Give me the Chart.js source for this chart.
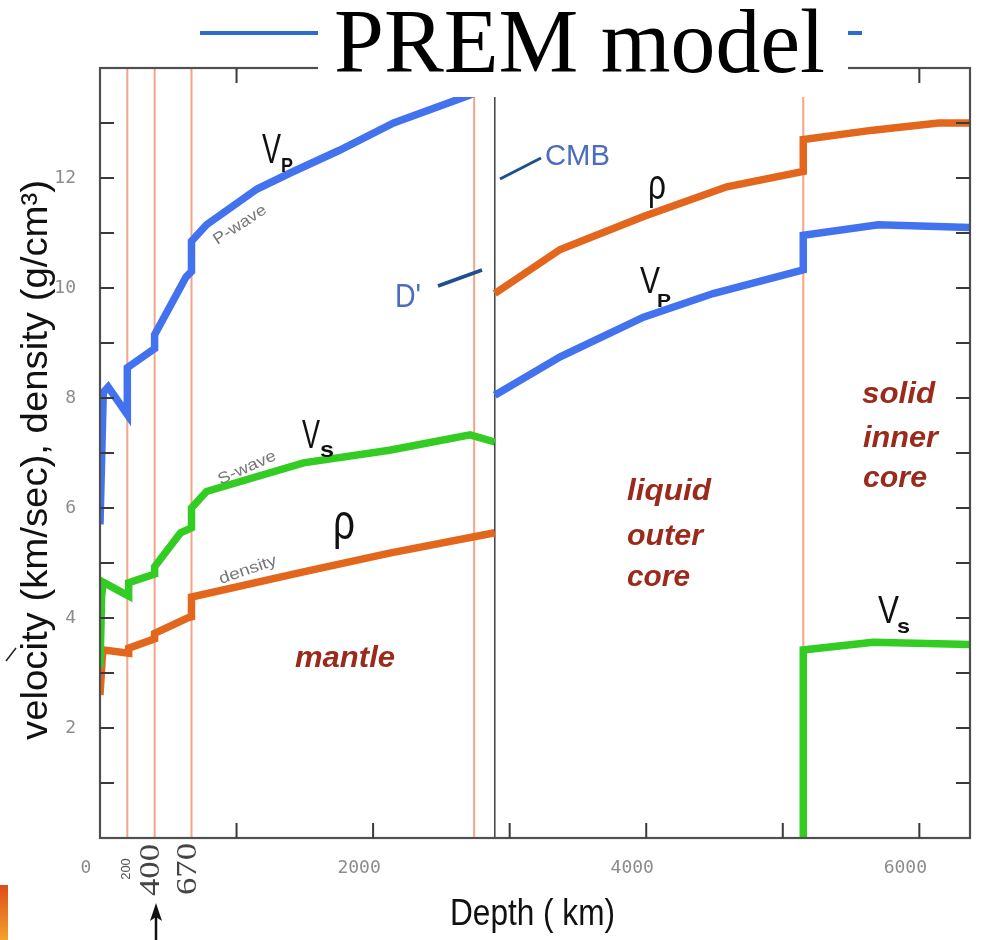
<!DOCTYPE html>
<html>
<head>
<meta charset="utf-8">
<script src="https://cdn.jsdelivr.net/npm/chart.js@4.4.1/dist/chart.umd.min.js"></script>
<style>
  html, body { margin: 0; padding: 0; background: #fff; overflow: hidden; }
  #chart { display: block; }
</style>
</head>
<body>
<canvas id="chart" width="981" height="940"></canvas>
<script>
// PREM profiles (depth in km), null = break in the curve
const depthVp = [0, 24, 60, 200, 200, 400, 400, 630, 670, 670, 780, 1150, 1400, 1750, 2150, 2700, 2891, null,
                 2891, 3370, 3980, 4490, 5150, 5150, 5700, 6371];
const vp      = [5.7, 8.1, 8.2, 7.7, 8.55, 8.9, 9.15, 10.2, 10.3, 10.85, 11.15, 11.8, 12.1, 12.5, 13.0, 13.5, 13.72, null,
                 8.05, 8.75, 9.47, 9.9, 10.33, 10.96, 11.15, 11.1];

const depthVs = [0, 12, 24, 150, 210, 210, 400, 400, 590, 670, 670, 780, 1490, 2120, 2710, 2891, null,
                 5150, 5150, 5660, 6371];
const vs      = [3.1, 4.4, 4.65, 4.48, 4.4, 4.64, 4.8, 4.93, 5.55, 5.64, 6.0, 6.3, 6.82, 7.05, 7.33, 7.2, null,
                 0, 3.42, 3.56, 3.52];

const depthRho = [0, 20, 210, 210, 400, 400, 640, 670, 670, 1490, 2120, 2891, null,
                  2891, 3370, 3980, 4590, 5150, 5150, 5660, 6140, 6371];
const rho      = [2.6, 3.42, 3.36, 3.45, 3.62, 3.72, 4.0, 4.02, 4.38, 4.84, 5.18, 5.55, null,
                  9.9, 10.7, 11.3, 11.84, 12.12, 12.7, 12.87, 13.0, 13.0];

const xTickValues = [0, 1000, 2000, 3000, 4000, 5000, 6000];
const xLabelValues = [0, 2000, 4000, 6000];
const yTickValues = [0, 1, 2, 3, 4, 5, 6, 7, 8, 9, 10, 11, 12, 13, 14];
const yLabelValues = [2, 4, 6, 8, 10, 12];
const boundaryDepths = [200, 400, 670, 2740, 5150];
const cmbDepth = 2891;
const depthLabels = ['200', '400', '670'];

const BLUE = '#4272ee';
const GREEN = '#33cc22';
const ORANGE = '#e2661c';
const REGION = '#992a1c';

function toPoints(xs, ys) {
  return xs.map((x, i) => ({ x: x, y: ys[i] }));
}

function label(ctx, s, x, y, o) {
  ctx.save();
  ctx.translate(x, y);
  if (o.rot) ctx.rotate(o.rot * Math.PI / 180);
  ctx.font = o.font;
  ctx.fillStyle = o.color || '#111';
  ctx.textAlign = o.align || 'left';
  ctx.textBaseline = o.base || 'alphabetic';
  if (o.w) {
    const m = ctx.measureText(s).width;
    ctx.scale(o.w / m, 1);
  }
  ctx.fillText(s, 0, 0);
  ctx.restore();
}

function seg(ctx, x1, y1, x2, y2, color, width) {
  ctx.save();
  ctx.strokeStyle = color;
  ctx.lineWidth = width;
  ctx.beginPath();
  ctx.moveTo(x1, y1);
  ctx.lineTo(x2, y2);
  ctx.stroke();
  ctx.restore();
}

// boundaries behind the curves
const boundaryPlugin = {
  id: 'boundaries',
  beforeDatasetsDraw(chart) {
    const { ctx, chartArea: a, scales: { x } } = chart;
    boundaryDepths.forEach(d => {
      const px = x.getPixelForValue(d);
      seg(ctx, px, a.top, px, a.bottom, '#f3a487', 2);
    });
    const cx = x.getPixelForValue(cmbDepth);
    seg(ctx, cx, a.top, cx, a.bottom, '#4a4a4a', 1.6);
  }
};

// frame with inward ticks, like the original plot
const framePlugin = {
  id: 'frame',
  afterDatasetsDraw(chart) {
    const { ctx, chartArea: a, scales: { x, y } } = chart;
    ctx.save();
    ctx.strokeStyle = '#505050';
    ctx.lineWidth = 2.2;
    ctx.strokeRect(a.left, a.top, a.right - a.left, a.bottom - a.top);
    ctx.lineWidth = 2;
    ctx.strokeStyle = '#3a3a3a';
    x.ticks.forEach(t => {
      if (t.value <= 0) return;
      const px = x.getPixelForValue(t.value);
      ctx.beginPath();
      ctx.moveTo(px, a.bottom); ctx.lineTo(px, a.bottom - 15);
      ctx.moveTo(px, a.top); ctx.lineTo(px, a.top + 15);
      ctx.stroke();
    });
    y.ticks.forEach(t => {
      if (t.value <= 0 || t.value >= 14) return;
      const py = y.getPixelForValue(t.value);
      ctx.beginPath();
      ctx.moveTo(a.left, py); ctx.lineTo(a.left + 14, py);
      ctx.moveTo(a.right, py); ctx.lineTo(a.right - 14, py);
      ctx.stroke();
    });
    ctx.restore();
  }
};

const annotatePlugin = {
  id: 'annotate',
  afterDraw(chart) {
    const { ctx, scales: { x } } = chart;
    const sans = 'Liberation Sans, Arial, sans-serif';

    // curve names
    label(ctx, 'V', 262, 163, { font: '42px ' + sans, w: 19 });
    label(ctx, 'P', 281, 172, { font: 'bold 20px ' + sans, w: 12 });
    label(ctx, 'V', 302, 448, { font: '40px ' + sans, w: 18 });
    label(ctx, 's', 320, 457, { font: 'bold 22px ' + sans, w: 14 });
    label(ctx, 'ρ', 333, 539, { font: '50px ' + sans, w: 22 });
    label(ctx, 'V', 640, 293, { font: '36px ' + sans, w: 20 });
    label(ctx, 'P', 657, 307, { font: 'bold 19px ' + sans, w: 14 });
    label(ctx, 'ρ', 648, 199, { font: '42px ' + sans, w: 18 });
    label(ctx, 'V', 878, 623, { font: '38px ' + sans, w: 21 });
    label(ctx, 's', 897, 633, { font: 'bold 21px ' + sans, w: 13 });

    label(ctx, 'P-wave', 240, 225, { font: '16px ' + sans, color: '#777', align: 'center', base: 'middle', rot: -33, w: 60 });
    label(ctx, 'S-wave', 247, 468, { font: '16px ' + sans, color: '#777', align: 'center', base: 'middle', rot: -24, w: 62 });
    label(ctx, 'density', 248, 570, { font: '16px ' + sans, color: '#777', align: 'center', base: 'middle', rot: -19, w: 60 });

    // regions
    const reg = 'italic bold 30px ' + sans;
    label(ctx, 'mantle', 295, 667, { font: reg, color: REGION, w: 100 });
    label(ctx, 'liquid', 627, 500, { font: reg, color: REGION, w: 84 });
    label(ctx, 'outer', 627, 545, { font: reg, color: REGION, w: 76 });
    label(ctx, 'core', 627, 586, { font: reg, color: REGION, w: 63 });
    label(ctx, 'solid', 862, 403, { font: reg, color: REGION, w: 73 });
    label(ctx, 'inner', 863, 447, { font: reg, color: REGION, w: 75 });
    label(ctx, 'core', 863, 487, { font: reg, color: REGION, w: 64 });

    // CMB and D'' pointers
    seg(ctx, 500, 179, 541, 158, '#1f4f8f', 3);
    label(ctx, 'CMB', 545, 165, { font: '29px ' + sans, color: '#4a6dbd', w: 65 });
    seg(ctx, 438, 286, 482, 270, '#1f4f8f', 3.5);
    label(ctx, "D'", 395, 307, { font: '34px ' + sans, color: '#4a6dbd', w: 26 });

    // depth markers below the axis
    const px200 = x.getPixelForValue(200), px400 = x.getPixelForValue(400), px670 = x.getPixelForValue(670);
    label(ctx, depthLabels[0], px200 - 1, 869, { font: '13px ' + sans, color: '#555', align: 'center', base: 'middle', rot: -90 });
    label(ctx, depthLabels[1], px400 - 3, 870, { font: '30px Liberation Serif, serif', color: '#444', align: 'center', base: 'middle', rot: -90, w: 52 });
    label(ctx, depthLabels[2], px670 - 3, 869, { font: '30px Liberation Serif, serif', color: '#444', align: 'center', base: 'middle', rot: -90, w: 52 });

    // arrow under 400
    ctx.save();
    ctx.fillStyle = '#111';
    ctx.strokeStyle = '#111';
    ctx.lineWidth = 2.5;
    ctx.beginPath(); ctx.moveTo(156, 915); ctx.lineTo(156, 940); ctx.stroke();
    ctx.beginPath(); ctx.moveTo(156, 903); ctx.lineTo(150, 921); ctx.lineTo(156, 917); ctx.lineTo(162, 921); ctx.closePath(); ctx.fill();
    ctx.restore();

    // axis titles
    label(ctx, 'Depth ( km)', 450, 925, { font: '36px ' + sans, w: 165 });
    ctx.save();
    ctx.beginPath(); ctx.rect(20, 0, 100, 940); ctx.clip();
    label(ctx, 'velocity (km/sec), density (g/cm³)', 47, 740, { font: '37px ' + sans, rot: -90, w: 560 });
    ctx.restore();

    // stray marks from the slide
    seg(ctx, 6, 661, 16, 648, '#222', 1.5);
    const g = ctx.createLinearGradient(0, 885, 0, 940);
    g.addColorStop(0, '#e04a1c'); g.addColorStop(1, '#f2a32a');
    ctx.fillStyle = g;
    ctx.fillRect(0, 885, 8, 55);

    // slide title over the plot
    seg(ctx, 200, 33, 862, 33, '#2b6ccc', 4);
    ctx.fillStyle = '#fff';
    ctx.fillRect(318, 0, 530, 97);
    label(ctx, 'PREM model', 334, 72, { font: '90px Liberation Serif, Times New Roman, serif', color: '#000', w: 491 });
  }
};

new Chart(document.getElementById('chart'), {
  type: 'scatter',
  data: {
    datasets: [
      { label: 'Vp', data: toPoints(depthVp, vp), borderColor: BLUE },
      { label: 'Vs', data: toPoints(depthVs, vs), borderColor: GREEN },
      { label: 'density', data: toPoints(depthRho, rho), borderColor: ORANGE }
    ].map(d => Object.assign(d, {
      showLine: true, spanGaps: false, borderWidth: 7.5, pointRadius: 0,
      tension: 0, fill: false, backgroundColor: d.borderColor
    }))
  },
  options: {
    responsive: false,
    animation: false,
    layout: { padding: { top: 68, right: 11, left: 0, bottom: 0 } },
    plugins: { legend: { display: false }, tooltip: { enabled: false } },
    scales: {
      x: {
        type: 'linear', min: 0, max: 6371, bounds: 'data',
        grid: { display: false, drawTicks: false },
        border: { display: false },
        ticks: {
          autoSkip: false, maxRotation: 0,
          padding: 20, labelOffset: -14,
          color: '#8c8c8c', font: { family: 'DejaVu Sans Mono', size: 18 },
          callback: v => xLabelValues.includes(v) ? String(v) : ''
        },
        afterBuildTicks: s => { s.ticks = xTickValues.map(v => ({ value: v })); },
        afterFit: s => { s.height = 102; }
      },
      y: {
        type: 'linear', min: 0, max: 14, bounds: 'data',
        grid: { display: false, drawTicks: false },
        border: { display: false },
        ticks: {
          autoSkip: false, padding: 24,
          color: '#8c8c8c', font: { family: 'DejaVu Sans Mono', size: 18 },
          callback: v => yLabelValues.includes(v) ? String(v) : ''
        },
        afterBuildTicks: s => { s.ticks = yTickValues.map(v => ({ value: v })); },
        afterFit: s => { s.width = 100; }
      }
    }
  },
  plugins: [boundaryPlugin, framePlugin, annotatePlugin]
});
</script>
</body>
</html>
